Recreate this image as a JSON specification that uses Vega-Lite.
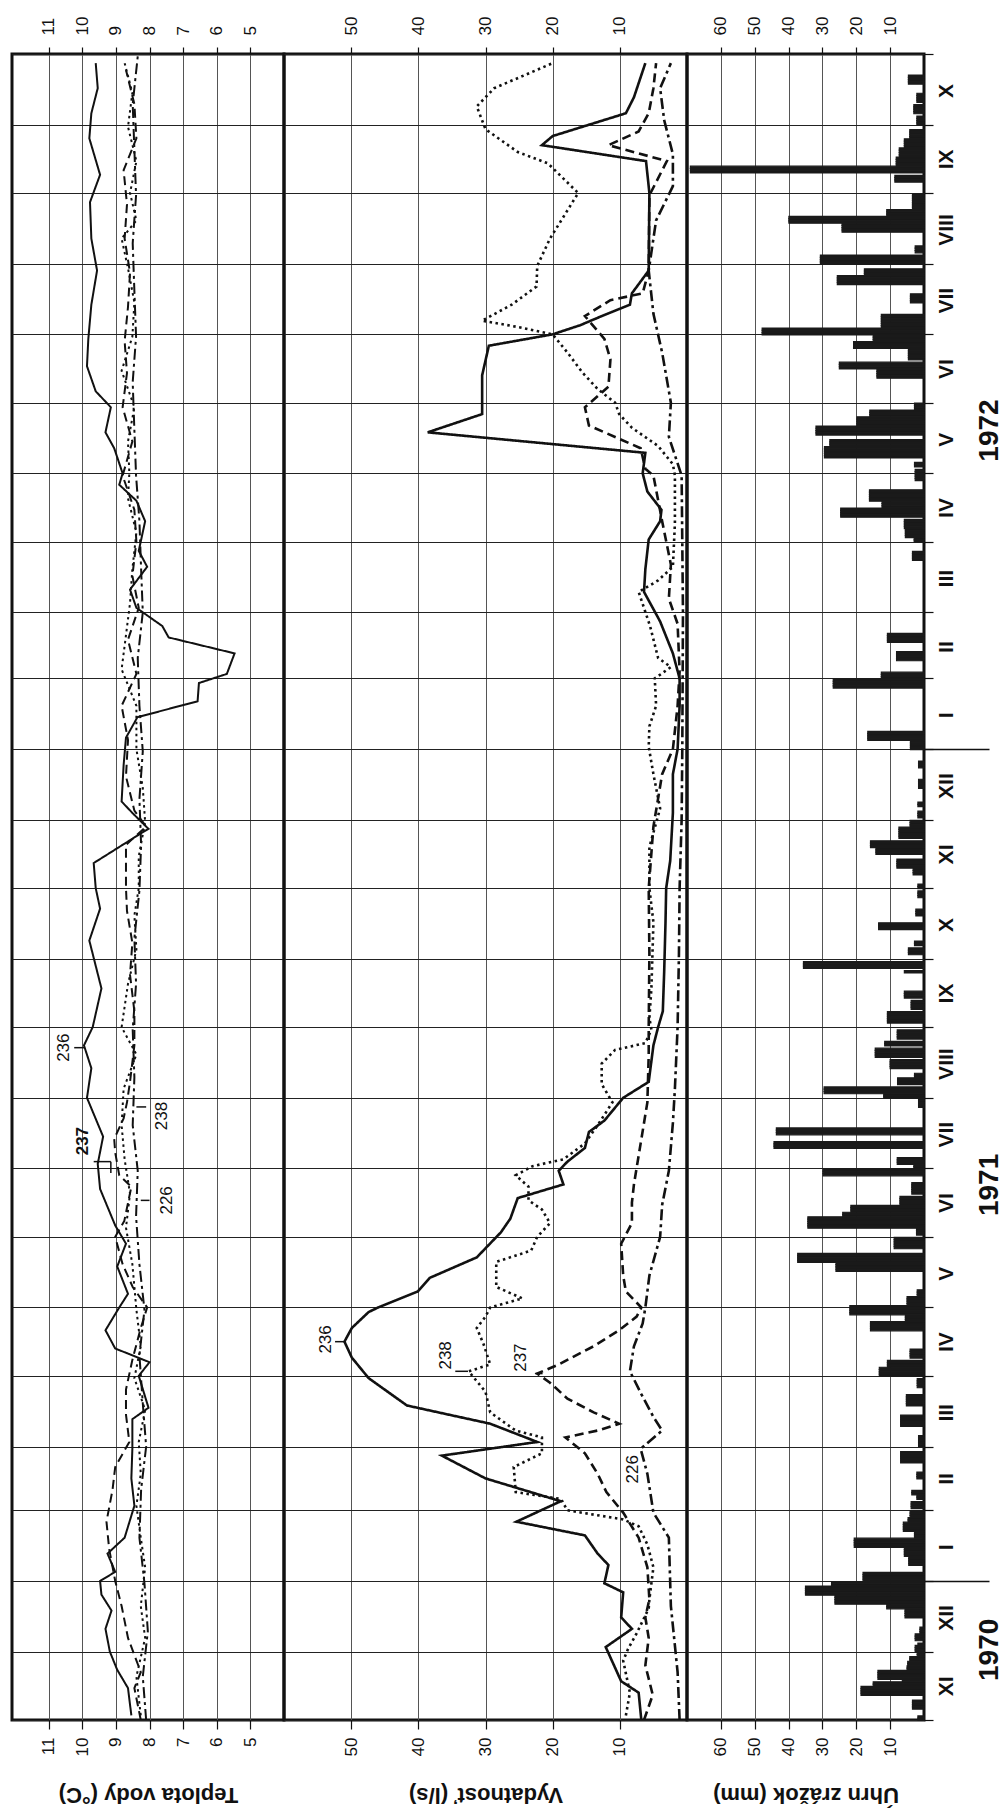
{
"$schema":"https://vega.github.io/schema/vega-lite/v6.json",
"background":"white",
"padding":{"left":10,"top":14,"right":0,"bottom":0},
"spacing":0,
"bounds":"flush",
"config":{
 "view":{"stroke":"#111","strokeWidth":3},
 "font":"Arial",
 "axis":{"labelFont":"Arial","labelFontSize":17,"labelColor":"#111","tickColor":"#111","tickWidth":1.2,"gridColor":"#555","gridWidth":1,"gridOpacity":1,"domain":false,"titleFont":"Arial","titleColor":"#111","labelOverlap":false,"labelFlush":false}
},
"datasets":{
"temp":[
{"date":"1970-11-03","site":"236","value":8.54},{"date":"1970-11-15","site":"236","value":8.64},{"date":"1970-11-23","site":"236","value":8.96},{"date":"1970-12-01","site":"236","value":9.18},{"date":"1970-12-11","site":"236","value":9.31},{"date":"1970-12-19","site":"236","value":9.13},{"date":"1970-12-26","site":"236","value":9.43},{"date":"1971-01-01","site":"236","value":9.47},{"date":"1971-01-05","site":"236","value":9.02},{"date":"1971-01-13","site":"236","value":9.25},{"date":"1971-01-20","site":"236","value":8.74},{"date":"1971-02-03","site":"236","value":8.45},{"date":"1971-02-15","site":"236","value":8.54},{"date":"1971-02-28","site":"236","value":8.51},{"date":"1971-03-13","site":"236","value":8.51},{"date":"1971-03-18","site":"236","value":8.03},{"date":"1971-04-01","site":"236","value":8.32},{"date":"1971-04-07","site":"236","value":8.0},{"date":"1971-04-13","site":"236","value":9.02},{"date":"1971-04-21","site":"236","value":9.31},{"date":"1971-05-01","site":"236","value":8.9},{"date":"1971-05-07","site":"236","value":8.64},{"date":"1971-05-19","site":"236","value":8.96},{"date":"1971-05-29","site":"236","value":8.7},{"date":"1971-06-06","site":"236","value":9.02},{"date":"1971-06-22","site":"236","value":9.47},{"date":"1971-07-03","site":"236","value":9.54},{"date":"1971-07-15","site":"236","value":9.38},{"date":"1971-08-01","site":"236","value":9.86},{"date":"1971-08-14","site":"236","value":9.73},{"date":"1971-08-24","site":"236","value":9.95},{"date":"1971-09-01","site":"236","value":9.69},{"date":"1971-09-18","site":"236","value":9.43},{"date":"1971-10-09","site":"236","value":9.79},{"date":"1971-10-23","site":"236","value":9.47},{"date":"1971-11-01","site":"236","value":9.6},{"date":"1971-11-12","site":"236","value":9.66},{"date":"1971-11-25","site":"236","value":8.26},{"date":"1971-11-27","site":"236","value":8.03},{"date":"1971-12-04","site":"236","value":8.51},{"date":"1971-12-09","site":"236","value":8.83},{"date":"1971-12-25","site":"236","value":8.77},{"date":"1972-01-06","site":"236","value":8.7},{"date":"1972-01-15","site":"236","value":8.36},{"date":"1972-01-22","site":"236","value":6.57},{"date":"1972-01-30","site":"236","value":6.53},{"date":"1972-02-03","site":"236","value":5.7},{"date":"1972-02-12","site":"236","value":5.47},{"date":"1972-02-19","site":"236","value":7.43},{"date":"1972-02-24","site":"236","value":7.62},{"date":"1972-03-03","site":"236","value":8.39},{"date":"1972-03-11","site":"236","value":8.58},{"date":"1972-03-21","site":"236","value":8.07},{"date":"1972-03-28","site":"236","value":8.32},{"date":"1972-04-10","site":"236","value":8.13},{"date":"1972-04-19","site":"236","value":8.39},{"date":"1972-04-26","site":"236","value":8.9},{"date":"1972-05-01","site":"236","value":8.8},{"date":"1972-05-12","site":"236","value":9.05},{"date":"1972-05-19","site":"236","value":9.31},{"date":"1972-05-30","site":"236","value":9.15},{"date":"1972-06-06","site":"236","value":9.6},{"date":"1972-06-17","site":"236","value":9.86},{"date":"1972-06-29","site":"236","value":9.82},{"date":"1972-07-14","site":"236","value":9.73},{"date":"1972-07-29","site":"236","value":9.56},{"date":"1972-08-12","site":"236","value":9.73},{"date":"1972-08-28","site":"236","value":9.77},{"date":"1972-09-09","site":"236","value":9.47},{"date":"1972-09-25","site":"236","value":9.79},{"date":"1972-10-06","site":"236","value":9.73},{"date":"1972-10-17","site":"236","value":9.54},{"date":"1972-10-28","site":"236","value":9.6},
{"date":"1970-11-01","site":"237","value":8.26},{"date":"1970-11-15","site":"237","value":8.45},{"date":"1970-11-22","site":"237","value":8.26},{"date":"1970-12-07","site":"237","value":8.64},{"date":"1970-12-21","site":"237","value":8.83},{"date":"1971-01-01","site":"237","value":9.02},{"date":"1971-01-15","site":"237","value":9.2},{"date":"1971-01-27","site":"237","value":9.28},{"date":"1971-02-10","site":"237","value":9.1},{"date":"1971-02-20","site":"237","value":9.02},{"date":"1971-03-03","site":"237","value":8.6},{"date":"1971-03-15","site":"237","value":8.7},{"date":"1971-03-26","site":"237","value":8.7},{"date":"1971-04-08","site":"237","value":8.51},{"date":"1971-04-22","site":"237","value":8.26},{"date":"1971-05-01","site":"237","value":8.07},{"date":"1971-05-10","site":"237","value":8.5},{"date":"1971-05-20","site":"237","value":8.8},{"date":"1971-06-01","site":"237","value":9.02},{"date":"1971-06-08","site":"237","value":8.75},{"date":"1971-06-23","site":"237","value":8.54},{"date":"1971-06-28","site":"237","value":8.9},{"date":"1971-07-08","site":"237","value":9.02},{"date":"1971-07-14","site":"237","value":9.05},{"date":"1971-07-23","site":"237","value":8.77},{"date":"1971-07-30","site":"237","value":8.67},{"date":"1971-08-08","site":"237","value":8.58},{"date":"1971-08-24","site":"237","value":8.45},{"date":"1971-09-08","site":"237","value":8.45},{"date":"1971-09-24","site":"237","value":8.58},{"date":"1971-10-08","site":"237","value":8.51},{"date":"1971-10-22","site":"237","value":8.67},{"date":"1971-11-01","site":"237","value":8.7},{"date":"1971-11-20","site":"237","value":8.7},{"date":"1971-11-28","site":"237","value":8.1},{"date":"1971-12-05","site":"237","value":8.45},{"date":"1971-12-20","site":"237","value":8.7},{"date":"1972-01-05","site":"237","value":8.64},{"date":"1972-01-20","site":"237","value":8.83},{"date":"1972-02-03","site":"237","value":8.39},{"date":"1972-02-18","site":"237","value":8.64},{"date":"1972-03-03","site":"237","value":8.32},{"date":"1972-03-17","site":"237","value":8.51},{"date":"1972-04-01","site":"237","value":8.39},{"date":"1972-04-15","site":"237","value":8.45},{"date":"1972-04-30","site":"237","value":8.8},{"date":"1972-05-15","site":"237","value":8.51},{"date":"1972-05-30","site":"237","value":8.8},{"date":"1972-06-14","site":"237","value":8.67},{"date":"1972-06-28","site":"237","value":8.74},{"date":"1972-07-13","site":"237","value":8.64},{"date":"1972-07-28","site":"237","value":8.58},{"date":"1972-08-12","site":"237","value":8.74},{"date":"1972-08-27","site":"237","value":8.67},{"date":"1972-09-11","site":"237","value":8.77},{"date":"1972-09-25","site":"237","value":8.39},{"date":"1972-10-10","site":"237","value":8.45},{"date":"1972-10-25","site":"237","value":8.7},
{"date":"1970-11-03","site":"238","value":8.26},{"date":"1970-11-20","site":"238","value":8.39},{"date":"1970-12-07","site":"238","value":8.13},{"date":"1970-12-21","site":"238","value":8.26},{"date":"1971-01-07","site":"238","value":8.13},{"date":"1971-01-20","site":"238","value":8.26},{"date":"1971-02-03","site":"238","value":8.39},{"date":"1971-02-17","site":"238","value":8.26},{"date":"1971-03-03","site":"238","value":8.32},{"date":"1971-03-17","site":"238","value":8.13},{"date":"1971-03-31","site":"238","value":8.45},{"date":"1971-04-14","site":"238","value":8.26},{"date":"1971-04-30","site":"238","value":8.39},{"date":"1971-05-20","site":"238","value":8.51},{"date":"1971-06-05","site":"238","value":8.7},{"date":"1971-06-20","site":"238","value":8.58},{"date":"1971-07-05","site":"238","value":8.74},{"date":"1971-07-20","site":"238","value":8.83},{"date":"1971-08-05","site":"238","value":8.77},{"date":"1971-08-20","site":"238","value":8.39},{"date":"1971-09-01","site":"238","value":8.83},{"date":"1971-09-20","site":"238","value":8.64},{"date":"1971-10-05","site":"238","value":8.39},{"date":"1971-10-20","site":"238","value":8.45},{"date":"1971-11-01","site":"238","value":8.32},{"date":"1971-11-15","site":"238","value":8.32},{"date":"1971-11-30","site":"238","value":8.13},{"date":"1971-12-15","site":"238","value":8.2},{"date":"1972-01-01","site":"238","value":8.39},{"date":"1972-01-20","site":"238","value":8.39},{"date":"1972-02-05","site":"238","value":8.83},{"date":"1972-02-20","site":"238","value":8.7},{"date":"1972-03-05","site":"238","value":8.58},{"date":"1972-03-20","site":"238","value":8.51},{"date":"1972-04-05","site":"238","value":8.39},{"date":"1972-04-20","site":"238","value":8.64},{"date":"1972-05-01","site":"238","value":8.6},{"date":"1972-05-15","site":"238","value":8.64},{"date":"1972-05-30","site":"238","value":8.45},{"date":"1972-06-15","site":"238","value":8.83},{"date":"1972-06-30","site":"238","value":8.51},{"date":"1972-07-15","site":"238","value":8.45},{"date":"1972-07-30","site":"238","value":8.64},{"date":"1972-08-12","site":"238","value":8.83},{"date":"1972-08-20","site":"238","value":8.39},{"date":"1972-09-01","site":"238","value":8.58},{"date":"1972-09-15","site":"238","value":8.39},{"date":"1972-09-30","site":"238","value":8.64},{"date":"1972-10-15","site":"238","value":8.51},{"date":"1972-10-28","site":"238","value":8.74},
{"date":"1970-11-01","site":"226","value":8.1},{"date":"1970-11-20","site":"226","value":8.2},{"date":"1970-12-10","site":"226","value":8.05},{"date":"1970-12-31","site":"226","value":8.15},{"date":"1971-01-20","site":"226","value":8.3},{"date":"1971-02-10","site":"226","value":8.25},{"date":"1971-03-01","site":"226","value":8.1},{"date":"1971-03-20","site":"226","value":8.2},{"date":"1971-04-10","site":"226","value":8.3},{"date":"1971-04-30","site":"226","value":8.15},{"date":"1971-05-20","site":"226","value":8.3},{"date":"1971-06-10","site":"226","value":8.4},{"date":"1971-06-30","site":"226","value":8.35},{"date":"1971-07-20","site":"226","value":8.5},{"date":"1971-08-10","site":"226","value":8.45},{"date":"1971-08-31","site":"226","value":8.5},{"date":"1971-09-20","site":"226","value":8.4},{"date":"1971-10-10","site":"226","value":8.45},{"date":"1971-10-31","site":"226","value":8.3},{"date":"1971-11-20","site":"226","value":8.25},{"date":"1971-12-10","site":"226","value":8.3},{"date":"1971-12-31","site":"226","value":8.2},{"date":"1972-01-20","site":"226","value":8.3},{"date":"1972-02-10","site":"226","value":8.35},{"date":"1972-03-01","site":"226","value":8.2},{"date":"1972-03-20","site":"226","value":8.25},{"date":"1972-04-10","site":"226","value":8.3},{"date":"1972-04-30","site":"226","value":8.4},{"date":"1972-05-20","site":"226","value":8.45},{"date":"1972-06-10","site":"226","value":8.5},{"date":"1972-06-30","site":"226","value":8.4},{"date":"1972-07-20","site":"226","value":8.45},{"date":"1972-08-10","site":"226","value":8.5},{"date":"1972-08-31","site":"226","value":8.4},{"date":"1972-09-20","site":"226","value":8.45},{"date":"1972-10-10","site":"226","value":8.5},{"date":"1972-10-31","site":"226","value":8.35}
],
"flow":[
{"date":"1970-11-01","site":"236","value":6.8},{"date":"1970-11-13","site":"236","value":7.2},{"date":"1970-11-18","site":"236","value":9.8},{"date":"1970-12-03","site":"236","value":12.1},{"date":"1970-12-11","site":"236","value":8.2},{"date":"1970-12-16","site":"236","value":9.8},{"date":"1970-12-27","site":"236","value":9.5},{"date":"1970-12-31","site":"236","value":12.3},{"date":"1971-01-08","site":"236","value":11.7},{"date":"1971-01-13","site":"236","value":13.3},{"date":"1971-01-21","site":"236","value":15.2},{"date":"1971-01-27","site":"236","value":25.4},{"date":"1971-02-05","site":"236","value":18.8},{"date":"1971-02-15","site":"236","value":30},{"date":"1971-02-25","site":"236","value":36.5},{"date":"1971-03-03","site":"236","value":22.3},{"date":"1971-03-11","site":"236","value":29.3},{"date":"1971-03-19","site":"236","value":41.7},{"date":"1971-03-31","site":"236","value":47.4},{"date":"1971-04-09","site":"236","value":49.9},{"date":"1971-04-16","site":"236","value":51},{"date":"1971-04-22","site":"236","value":49.9},{"date":"1971-04-29","site":"236","value":47.4},{"date":"1971-05-01","site":"236","value":46},{"date":"1971-05-08","site":"236","value":40.1},{"date":"1971-05-14","site":"236","value":38.3},{"date":"1971-05-23","site":"236","value":31.3},{"date":"1971-06-03","site":"236","value":27.7},{"date":"1971-06-09","site":"236","value":26.3},{"date":"1971-06-18","site":"236","value":25.2},{"date":"1971-06-24","site":"236","value":18.4},{"date":"1971-06-30","site":"236","value":19.1},{"date":"1971-07-04","site":"236","value":17.8},{"date":"1971-07-10","site":"236","value":15.2},{"date":"1971-07-17","site":"236","value":14.6},{"date":"1971-07-22","site":"236","value":12.3},{"date":"1971-08-01","site":"236","value":9.5},{"date":"1971-08-08","site":"236","value":5.7},{"date":"1971-08-24","site":"236","value":5.0},{"date":"1971-09-01","site":"236","value":4.3},{"date":"1971-09-08","site":"236","value":3.6},{"date":"1971-09-25","site":"236","value":3.4},{"date":"1971-10-17","site":"236","value":3.2},{"date":"1971-11-01","site":"236","value":3.1},{"date":"1971-11-13","site":"236","value":2.5},{"date":"1971-12-04","site":"236","value":2.1},{"date":"1971-12-21","site":"236","value":2.1},{"date":"1972-01-01","site":"236","value":1.4},{"date":"1972-01-20","site":"236","value":1.1},{"date":"1972-02-01","site":"236","value":1.1},{"date":"1972-02-12","site":"236","value":2.1},{"date":"1972-02-26","site":"236","value":4.0},{"date":"1972-03-10","site":"236","value":6.4},{"date":"1972-03-20","site":"236","value":6.2},{"date":"1972-04-02","site":"236","value":5.7},{"date":"1972-04-10","site":"236","value":4.0},{"date":"1972-04-15","site":"236","value":3.8},{"date":"1972-04-23","site":"236","value":5.9},{"date":"1972-05-01","site":"236","value":6.6},{"date":"1972-05-10","site":"236","value":6.2},{"date":"1972-05-19","site":"236","value":38.6},{"date":"1972-05-27","site":"236","value":30.5},{"date":"1972-06-13","site":"236","value":30.5},{"date":"1972-06-26","site":"236","value":29.5},{"date":"1972-07-01","site":"236","value":20},{"date":"1972-07-05","site":"236","value":15.9},{"date":"1972-07-09","site":"236","value":12.7},{"date":"1972-07-14","site":"236","value":8.5},{"date":"1972-07-19","site":"236","value":8.2},{"date":"1972-07-29","site":"236","value":5.7},{"date":"1972-09-01","site":"236","value":5.6},{"date":"1972-09-15","site":"236","value":6.1},{"date":"1972-09-22","site":"236","value":21.6},{"date":"1972-09-26","site":"236","value":20},{"date":"1972-10-06","site":"236","value":9.1},{"date":"1972-10-13","site":"236","value":7.9},{"date":"1972-10-28","site":"236","value":6.2},
{"date":"1970-11-03","site":"238","value":9.1},{"date":"1970-11-13","site":"238","value":8.5},{"date":"1970-11-27","site":"238","value":9.5},{"date":"1970-12-02","site":"238","value":8.8},{"date":"1970-12-09","site":"238","value":7.5},{"date":"1970-12-20","site":"238","value":5.7},{"date":"1970-12-24","site":"238","value":5.6},{"date":"1971-01-07","site":"238","value":5.0},{"date":"1971-01-17","site":"238","value":5.9},{"date":"1971-01-25","site":"238","value":7.2},{"date":"1971-01-28","site":"238","value":9.5},{"date":"1971-02-01","site":"238","value":17.8},{"date":"1971-02-06","site":"238","value":18.8},{"date":"1971-02-09","site":"238","value":25.5},{"date":"1971-02-20","site":"238","value":25.8},{"date":"1971-02-26","site":"238","value":21.6},{"date":"1971-03-05","site":"238","value":21.6},{"date":"1971-03-08","site":"238","value":25.5},{"date":"1971-03-16","site":"238","value":29.3},{"date":"1971-03-25","site":"238","value":30},{"date":"1971-04-03","site":"238","value":32.5},{"date":"1971-04-06","site":"238","value":29.3},{"date":"1971-04-15","site":"238","value":30.3},{"date":"1971-04-22","site":"238","value":31.3},{"date":"1971-04-27","site":"238","value":30},{"date":"1971-05-01","site":"238","value":29.3},{"date":"1971-05-05","site":"238","value":24.5},{"date":"1971-05-10","site":"238","value":28.4},{"date":"1971-05-21","site":"238","value":28.4},{"date":"1971-05-26","site":"238","value":23.2},{"date":"1971-06-01","site":"238","value":22.3},{"date":"1971-06-07","site":"238","value":20.4},{"date":"1971-06-13","site":"238","value":21.6},{"date":"1971-06-17","site":"238","value":23.6},{"date":"1971-06-23","site":"238","value":23.6},{"date":"1971-06-28","site":"238","value":25.5},{"date":"1971-07-02","site":"238","value":23},{"date":"1971-07-05","site":"238","value":18.4},{"date":"1971-07-12","site":"238","value":15.2},{"date":"1971-07-20","site":"238","value":13.3},{"date":"1971-07-30","site":"238","value":11.1},{"date":"1971-08-07","site":"238","value":12.7},{"date":"1971-08-16","site":"238","value":12.7},{"date":"1971-08-22","site":"238","value":10.7},{"date":"1971-08-25","site":"238","value":6.2},{"date":"1971-08-31","site":"238","value":5.3},{"date":"1971-09-05","site":"238","value":5.6},{"date":"1971-09-18","site":"238","value":5.3},{"date":"1971-10-17","site":"238","value":5.0},{"date":"1971-11-01","site":"238","value":5.6},{"date":"1971-11-19","site":"238","value":5.6},{"date":"1971-12-06","site":"238","value":4.0},{"date":"1971-12-21","site":"238","value":5.0},{"date":"1972-01-02","site":"238","value":5.7},{"date":"1972-01-11","site":"238","value":5.6},{"date":"1972-01-20","site":"238","value":4.6},{"date":"1972-02-01","site":"238","value":4.8},{"date":"1972-02-06","site":"238","value":2.4},{"date":"1972-02-10","site":"238","value":4.3},{"date":"1972-02-24","site":"238","value":5.5},{"date":"1972-03-10","site":"238","value":7.2},{"date":"1972-03-15","site":"238","value":4.3},{"date":"1972-03-21","site":"238","value":2.1},{"date":"1972-04-09","site":"238","value":1.8},{"date":"1972-04-30","site":"238","value":1.8},{"date":"1972-05-05","site":"238","value":2.1},{"date":"1972-05-13","site":"238","value":4.3},{"date":"1972-05-21","site":"238","value":8.2},{"date":"1972-05-27","site":"238","value":10.1},{"date":"1972-06-01","site":"238","value":10.7},{"date":"1972-06-07","site":"238","value":13.3},{"date":"1972-06-14","site":"238","value":15.5},{"date":"1972-06-23","site":"238","value":17.8},{"date":"1972-07-01","site":"238","value":20},{"date":"1972-07-04","site":"238","value":24.8},{"date":"1972-07-07","site":"238","value":30.5},{"date":"1972-07-14","site":"238","value":26.1},{"date":"1972-07-22","site":"238","value":22.4},{"date":"1972-07-31","site":"238","value":22.3},{"date":"1972-08-12","site":"238","value":20.4},{"date":"1972-09-01","site":"238","value":16.2},{"date":"1972-09-14","site":"238","value":20.7},{"date":"1972-09-19","site":"238","value":25.2},{"date":"1972-09-29","site":"238","value":30},{"date":"1972-10-09","site":"238","value":31.3},{"date":"1972-10-17","site":"238","value":28.7},{"date":"1972-10-28","site":"238","value":20},
{"date":"1970-11-01","site":"237","value":6.4},{"date":"1970-11-12","site":"237","value":5.1},{"date":"1970-11-25","site":"237","value":6.2},{"date":"1970-12-07","site":"237","value":5.7},{"date":"1970-12-16","site":"237","value":6.2},{"date":"1970-12-24","site":"237","value":5.6},{"date":"1971-01-07","site":"237","value":5.9},{"date":"1971-01-20","site":"237","value":7.2},{"date":"1971-01-31","site":"237","value":9.5},{"date":"1971-02-09","site":"237","value":12},{"date":"1971-02-17","site":"237","value":13.3},{"date":"1971-02-26","site":"237","value":15.2},{"date":"1971-03-05","site":"237","value":18.1},{"date":"1971-03-08","site":"237","value":13.3},{"date":"1971-03-11","site":"237","value":10.1},{"date":"1971-03-16","site":"237","value":13.9},{"date":"1971-03-22","site":"237","value":17.8},{"date":"1971-03-29","site":"237","value":20.4},{"date":"1971-04-02","site":"237","value":22.3},{"date":"1971-04-06","site":"237","value":19.1},{"date":"1971-04-14","site":"237","value":13.9},{"date":"1971-04-21","site":"237","value":10.1},{"date":"1971-04-27","site":"237","value":7.5},{"date":"1971-05-01","site":"237","value":6.8},{"date":"1971-05-08","site":"237","value":9.1},{"date":"1971-05-15","site":"237","value":9.5},{"date":"1971-05-29","site":"237","value":9.8},{"date":"1971-06-07","site":"237","value":8.2},{"date":"1971-06-16","site":"237","value":8.2},{"date":"1971-06-24","site":"237","value":7.9},{"date":"1971-07-12","site":"237","value":6.9},{"date":"1971-07-30","site":"237","value":5.9},{"date":"1971-08-20","site":"237","value":5.7},{"date":"1971-09-01","site":"237","value":5.7},{"date":"1971-10-03","site":"237","value":5.6},{"date":"1971-11-01","site":"237","value":5.7},{"date":"1971-11-28","site":"237","value":5.0},{"date":"1971-12-21","site":"237","value":3.7},{"date":"1972-01-01","site":"237","value":2.1},{"date":"1972-01-20","site":"237","value":1.4},{"date":"1972-02-04","site":"237","value":1.1},{"date":"1972-02-25","site":"237","value":1.4},{"date":"1972-03-07","site":"237","value":2.7},{"date":"1972-03-22","site":"237","value":2.4},{"date":"1972-04-10","site":"237","value":3.7},{"date":"1972-04-30","site":"237","value":5.0},{"date":"1972-05-03","site":"237","value":6.2},{"date":"1972-05-12","site":"237","value":6.9},{"date":"1972-05-22","site":"237","value":14.6},{"date":"1972-05-30","site":"237","value":15.2},{"date":"1972-06-08","site":"237","value":11.7},{"date":"1972-06-20","site":"237","value":11.4},{"date":"1972-06-29","site":"237","value":12.3},{"date":"1972-07-09","site":"237","value":15.2},{"date":"1972-07-16","site":"237","value":11.4},{"date":"1972-07-19","site":"237","value":6.6},{"date":"1972-07-29","site":"237","value":5.7},{"date":"1972-08-31","site":"237","value":5.6},{"date":"1972-09-15","site":"237","value":3.0},{"date":"1972-09-22","site":"237","value":11.7},{"date":"1972-09-28","site":"237","value":7.2},{"date":"1972-10-06","site":"237","value":5.7},{"date":"1972-10-17","site":"237","value":5.0},{"date":"1972-10-28","site":"237","value":4.6},
{"date":"1970-11-01","site":"226","value":1.1},{"date":"1970-11-22","site":"226","value":1.4},{"date":"1970-12-21","site":"226","value":2.4},{"date":"1971-01-20","site":"226","value":2.7},{"date":"1971-01-31","site":"226","value":5.0},{"date":"1971-02-17","site":"226","value":5.9},{"date":"1971-02-28","site":"226","value":6.9},{"date":"1971-03-08","site":"226","value":3.7},{"date":"1971-03-14","site":"226","value":5.0},{"date":"1971-03-24","site":"226","value":6.8},{"date":"1971-04-03","site":"226","value":8.5},{"date":"1971-04-14","site":"226","value":7.9},{"date":"1971-04-24","site":"226","value":6.6},{"date":"1971-05-01","site":"226","value":6.2},{"date":"1971-05-15","site":"226","value":5.6},{"date":"1971-06-01","site":"226","value":4.0},{"date":"1971-06-15","site":"226","value":3.7},{"date":"1971-06-30","site":"226","value":2.7},{"date":"1971-07-21","site":"226","value":2.1},{"date":"1971-08-05","site":"226","value":1.8},{"date":"1971-09-01","site":"226","value":1.4},{"date":"1971-10-03","site":"226","value":1.2},{"date":"1971-11-01","site":"226","value":1.1},{"date":"1971-12-01","site":"226","value":0.8},{"date":"1972-01-01","site":"226","value":0.7},{"date":"1972-03-01","site":"226","value":0.6},{"date":"1972-04-30","site":"226","value":0.8},{"date":"1972-05-17","site":"226","value":2.7},{"date":"1972-06-01","site":"226","value":2.4},{"date":"1972-06-23","site":"226","value":3.7},{"date":"1972-07-10","site":"226","value":5.0},{"date":"1972-07-29","site":"226","value":5.7},{"date":"1972-08-20","site":"226","value":4.6},{"date":"1972-09-04","site":"226","value":2.1},{"date":"1972-09-18","site":"226","value":2.1},{"date":"1972-10-03","site":"226","value":3.4},{"date":"1972-10-17","site":"226","value":4.0},{"date":"1972-10-28","site":"226","value":2.4}
],
"rain":[
{"date":"1970-11-01","mm":1.8},{"date":"1970-11-02","mm":1.8},{"date":"1970-11-06","mm":3.4},{"date":"1970-11-07","mm":3.4},{"date":"1970-11-08","mm":3.4},{"date":"1970-11-09","mm":3.4},{"date":"1970-11-12","mm":18.6},{"date":"1970-11-13","mm":18.6},{"date":"1970-11-14","mm":18.6},{"date":"1970-11-15","mm":18.6},{"date":"1970-11-16","mm":15},{"date":"1970-11-17","mm":15},{"date":"1970-11-18","mm":6.4},{"date":"1970-11-19","mm":13.6},{"date":"1970-11-20","mm":13.6},{"date":"1970-11-21","mm":13.6},{"date":"1970-11-22","mm":13.6},{"date":"1970-11-23","mm":5},{"date":"1970-11-24","mm":5},{"date":"1970-11-25","mm":4.8},{"date":"1970-11-26","mm":4.8},{"date":"1970-11-27","mm":4.2},{"date":"1970-11-28","mm":4.2},{"date":"1970-11-29","mm":2},{"date":"1970-11-30","mm":2},
{"date":"1970-12-01","mm":2.6},{"date":"1970-12-02","mm":2.6},{"date":"1970-12-03","mm":2.6},{"date":"1970-12-04","mm":1.8},{"date":"1970-12-06","mm":2.6},{"date":"1970-12-07","mm":2.6},{"date":"1970-12-08","mm":2.6},{"date":"1970-12-09","mm":1.2},{"date":"1970-12-10","mm":1.2},{"date":"1970-12-11","mm":1.2},{"date":"1970-12-16","mm":5.6},{"date":"1970-12-17","mm":5.6},{"date":"1970-12-18","mm":5.6},{"date":"1970-12-19","mm":5.6},{"date":"1970-12-20","mm":11},{"date":"1970-12-21","mm":11},{"date":"1970-12-22","mm":26.3},{"date":"1970-12-23","mm":26.3},{"date":"1970-12-24","mm":26.3},{"date":"1970-12-25","mm":26.3},{"date":"1970-12-26","mm":35},{"date":"1970-12-27","mm":35},{"date":"1970-12-28","mm":35},{"date":"1970-12-29","mm":35},{"date":"1970-12-30","mm":27.3},{"date":"1970-12-31","mm":27.3},
{"date":"1971-01-01","mm":18},{"date":"1971-01-02","mm":18},{"date":"1971-01-03","mm":18},{"date":"1971-01-04","mm":18},{"date":"1971-01-08","mm":4.5},{"date":"1971-01-09","mm":4.5},{"date":"1971-01-10","mm":4.5},{"date":"1971-01-11","mm":4.5},{"date":"1971-01-12","mm":5.8},{"date":"1971-01-13","mm":5.8},{"date":"1971-01-14","mm":5.8},{"date":"1971-01-15","mm":5.8},{"date":"1971-01-16","mm":20.6},{"date":"1971-01-17","mm":20.6},{"date":"1971-01-18","mm":20.6},{"date":"1971-01-19","mm":20.6},{"date":"1971-01-20","mm":2.8},{"date":"1971-01-21","mm":2.8},{"date":"1971-01-22","mm":2.8},{"date":"1971-01-23","mm":6.1},{"date":"1971-01-24","mm":6.1},{"date":"1971-01-25","mm":6.1},{"date":"1971-01-26","mm":6.1},{"date":"1971-01-27","mm":4.7},{"date":"1971-01-28","mm":4.7},{"date":"1971-01-29","mm":4.1},{"date":"1971-01-30","mm":4.1},{"date":"1971-01-31","mm":4.1},
{"date":"1971-02-02","mm":3.8},{"date":"1971-02-03","mm":3.8},{"date":"1971-02-04","mm":3.8},{"date":"1971-02-06","mm":2.1},{"date":"1971-02-07","mm":2.1},{"date":"1971-02-08","mm":3.6},{"date":"1971-02-09","mm":3.6},{"date":"1971-02-15","mm":2.1},{"date":"1971-02-16","mm":2.1},{"date":"1971-02-17","mm":2.1},{"date":"1971-02-22","mm":6.9},{"date":"1971-02-23","mm":6.9},{"date":"1971-02-24","mm":6.9},{"date":"1971-02-25","mm":6.9},{"date":"1971-02-26","mm":6.9},
{"date":"1971-03-01","mm":1.6},{"date":"1971-03-02","mm":1.6},{"date":"1971-03-03","mm":1.6},{"date":"1971-03-04","mm":1.6},{"date":"1971-03-05","mm":1.6},{"date":"1971-03-10","mm":6.9},{"date":"1971-03-11","mm":6.9},{"date":"1971-03-12","mm":6.9},{"date":"1971-03-13","mm":6.9},{"date":"1971-03-14","mm":6.9},{"date":"1971-03-19","mm":5.2},{"date":"1971-03-20","mm":5.2},{"date":"1971-03-21","mm":5.2},{"date":"1971-03-22","mm":5.2},{"date":"1971-03-23","mm":5.2},{"date":"1971-03-27","mm":2},{"date":"1971-03-28","mm":2},{"date":"1971-03-29","mm":2},{"date":"1971-03-30","mm":2},
{"date":"1971-04-01","mm":13.2},{"date":"1971-04-02","mm":13.2},{"date":"1971-04-03","mm":13.2},{"date":"1971-04-04","mm":13.2},{"date":"1971-04-05","mm":10.8},{"date":"1971-04-06","mm":10.8},{"date":"1971-04-07","mm":10.8},{"date":"1971-04-09","mm":4.1},{"date":"1971-04-10","mm":4.1},{"date":"1971-04-11","mm":4.1},{"date":"1971-04-12","mm":4.1},{"date":"1971-04-21","mm":15.8},{"date":"1971-04-22","mm":15.8},{"date":"1971-04-23","mm":15.8},{"date":"1971-04-24","mm":15.8},{"date":"1971-04-25","mm":5.5},{"date":"1971-04-26","mm":5.5},{"date":"1971-04-27","mm":5.5},{"date":"1971-04-28","mm":21.9},{"date":"1971-04-29","mm":21.9},{"date":"1971-04-30","mm":21.9},
{"date":"1971-05-01","mm":21.9},{"date":"1971-05-02","mm":5},{"date":"1971-05-03","mm":5},{"date":"1971-05-04","mm":5},{"date":"1971-05-05","mm":5},{"date":"1971-05-06","mm":2},{"date":"1971-05-07","mm":2},{"date":"1971-05-08","mm":2},{"date":"1971-05-17","mm":26},{"date":"1971-05-18","mm":26},{"date":"1971-05-19","mm":26},{"date":"1971-05-20","mm":26},{"date":"1971-05-21","mm":37.3},{"date":"1971-05-22","mm":37.3},{"date":"1971-05-23","mm":37.3},{"date":"1971-05-24","mm":37.3},{"date":"1971-05-27","mm":8.8},{"date":"1971-05-28","mm":8.8},{"date":"1971-05-29","mm":8.8},{"date":"1971-05-30","mm":8.8},{"date":"1971-05-31","mm":8.8},
{"date":"1971-06-02","mm":2.2},{"date":"1971-06-03","mm":2.2},{"date":"1971-06-04","mm":2.2},{"date":"1971-06-05","mm":34.3},{"date":"1971-06-06","mm":34.3},{"date":"1971-06-07","mm":34.3},{"date":"1971-06-08","mm":34.3},{"date":"1971-06-09","mm":34.3},{"date":"1971-06-10","mm":24},{"date":"1971-06-11","mm":24},{"date":"1971-06-12","mm":21.6},{"date":"1971-06-13","mm":21.6},{"date":"1971-06-14","mm":21.6},{"date":"1971-06-15","mm":7.1},{"date":"1971-06-16","mm":7.1},{"date":"1971-06-17","mm":7.1},{"date":"1971-06-18","mm":7.1},{"date":"1971-06-20","mm":3.6},{"date":"1971-06-21","mm":3.6},{"date":"1971-06-22","mm":3.6},{"date":"1971-06-23","mm":3.6},{"date":"1971-06-24","mm":3.6},{"date":"1971-06-28","mm":29.8},{"date":"1971-06-29","mm":29.8},{"date":"1971-06-30","mm":29.8},
{"date":"1971-07-01","mm":3},{"date":"1971-07-02","mm":3},{"date":"1971-07-03","mm":7.9},{"date":"1971-07-04","mm":7.9},{"date":"1971-07-05","mm":7.9},{"date":"1971-07-10","mm":44.3},{"date":"1971-07-11","mm":44.3},{"date":"1971-07-12","mm":44.3},{"date":"1971-07-16","mm":43.6},{"date":"1971-07-17","mm":43.6},{"date":"1971-07-18","mm":43.6},{"date":"1971-07-28","mm":1.6},{"date":"1971-07-29","mm":1.6},{"date":"1971-07-30","mm":1.6},{"date":"1971-07-31","mm":1.6},
{"date":"1971-08-01","mm":11.9},{"date":"1971-08-02","mm":11.9},{"date":"1971-08-03","mm":29.5},{"date":"1971-08-04","mm":29.5},{"date":"1971-08-05","mm":29.5},{"date":"1971-08-07","mm":7.8},{"date":"1971-08-08","mm":7.8},{"date":"1971-08-09","mm":7.8},{"date":"1971-08-10","mm":2.8},{"date":"1971-08-11","mm":2.8},{"date":"1971-08-14","mm":10},{"date":"1971-08-15","mm":10},{"date":"1971-08-16","mm":10},{"date":"1971-08-17","mm":10},{"date":"1971-08-19","mm":14.4},{"date":"1971-08-20","mm":14.4},{"date":"1971-08-21","mm":14.4},{"date":"1971-08-22","mm":14.4},{"date":"1971-08-24","mm":11.6},{"date":"1971-08-25","mm":11.6},{"date":"1971-08-27","mm":7.9},{"date":"1971-08-28","mm":7.9},{"date":"1971-08-29","mm":7.9},{"date":"1971-08-30","mm":7.9},
{"date":"1971-09-03","mm":10.8},{"date":"1971-09-04","mm":10.8},{"date":"1971-09-05","mm":10.8},{"date":"1971-09-06","mm":10.8},{"date":"1971-09-07","mm":10.8},{"date":"1971-09-09","mm":3.8},{"date":"1971-09-10","mm":3.8},{"date":"1971-09-11","mm":3.8},{"date":"1971-09-12","mm":3.8},{"date":"1971-09-14","mm":5.8},{"date":"1971-09-15","mm":5.8},{"date":"1971-09-16","mm":5.8},{"date":"1971-09-25","mm":5.8},{"date":"1971-09-27","mm":35.6},{"date":"1971-09-28","mm":35.6},{"date":"1971-09-29","mm":35.6},
{"date":"1971-10-03","mm":4.6},{"date":"1971-10-04","mm":4.6},{"date":"1971-10-05","mm":4.6},{"date":"1971-10-07","mm":2.8},{"date":"1971-10-08","mm":2.8},{"date":"1971-10-14","mm":13.4},{"date":"1971-10-15","mm":13.4},{"date":"1971-10-16","mm":13.4},{"date":"1971-10-20","mm":2.4},{"date":"1971-10-21","mm":2.4},{"date":"1971-10-22","mm":2.4},{"date":"1971-10-28","mm":1.8},{"date":"1971-10-29","mm":1.8},{"date":"1971-10-30","mm":1.8},
{"date":"1971-11-01","mm":1.8},{"date":"1971-11-02","mm":1.8},{"date":"1971-11-07","mm":3.2},{"date":"1971-11-08","mm":3.2},{"date":"1971-11-09","mm":3.2},{"date":"1971-11-10","mm":8},{"date":"1971-11-11","mm":8},{"date":"1971-11-12","mm":8},{"date":"1971-11-13","mm":8},{"date":"1971-11-16","mm":14.2},{"date":"1971-11-17","mm":14.2},{"date":"1971-11-18","mm":14.2},{"date":"1971-11-19","mm":15.8},{"date":"1971-11-20","mm":15.8},{"date":"1971-11-21","mm":15.8},{"date":"1971-11-23","mm":7.4},{"date":"1971-11-24","mm":7.4},{"date":"1971-11-25","mm":7.4},{"date":"1971-11-26","mm":7.4},{"date":"1971-11-27","mm":7.4},{"date":"1971-11-28","mm":4.1},{"date":"1971-11-29","mm":4.1},{"date":"1971-11-30","mm":4.1},
{"date":"1971-12-02","mm":1.8},{"date":"1971-12-03","mm":1.8},{"date":"1971-12-04","mm":1.8},{"date":"1971-12-07","mm":1.8},{"date":"1971-12-08","mm":1.8},{"date":"1971-12-15","mm":1.6},{"date":"1971-12-16","mm":1.6},{"date":"1971-12-17","mm":1.6},{"date":"1971-12-18","mm":1.6},{"date":"1971-12-24","mm":1.6},{"date":"1971-12-25","mm":1.6},{"date":"1971-12-26","mm":1.6},
{"date":"1972-01-01","mm":4},{"date":"1972-01-02","mm":4},{"date":"1972-01-03","mm":4},{"date":"1972-01-04","mm":4},{"date":"1972-01-05","mm":16.6},{"date":"1972-01-06","mm":16.6},{"date":"1972-01-07","mm":16.6},{"date":"1972-01-08","mm":16.6},{"date":"1972-01-28","mm":26.8},{"date":"1972-01-29","mm":26.8},{"date":"1972-01-30","mm":26.8},{"date":"1972-01-31","mm":26.8},
{"date":"1972-02-01","mm":12.6},{"date":"1972-02-02","mm":12.6},{"date":"1972-02-03","mm":12.6},{"date":"1972-02-09","mm":8.1},{"date":"1972-02-10","mm":8.1},{"date":"1972-02-11","mm":8.1},{"date":"1972-02-12","mm":8.1},{"date":"1972-02-17","mm":10.8},{"date":"1972-02-18","mm":10.8},{"date":"1972-02-19","mm":10.8},{"date":"1972-02-20","mm":10.8},
{"date":"1972-03-24","mm":3.4},{"date":"1972-03-25","mm":3.4},{"date":"1972-03-26","mm":3.4},{"date":"1972-03-27","mm":3.4},
{"date":"1972-04-01","mm":2.9},{"date":"1972-04-02","mm":2.9},{"date":"1972-04-03","mm":5.5},{"date":"1972-04-04","mm":5.5},{"date":"1972-04-05","mm":5.5},{"date":"1972-04-06","mm":5.5},{"date":"1972-04-07","mm":5.8},{"date":"1972-04-08","mm":5.8},{"date":"1972-04-09","mm":5.8},{"date":"1972-04-10","mm":5.8},{"date":"1972-04-12","mm":24.6},{"date":"1972-04-13","mm":24.6},{"date":"1972-04-14","mm":24.6},{"date":"1972-04-15","mm":24.6},{"date":"1972-04-16","mm":12.4},{"date":"1972-04-17","mm":12.4},{"date":"1972-04-18","mm":12.4},{"date":"1972-04-19","mm":16.1},{"date":"1972-04-20","mm":16.1},{"date":"1972-04-21","mm":16.1},{"date":"1972-04-22","mm":16.1},{"date":"1972-04-23","mm":16.1},{"date":"1972-04-28","mm":2.6},{"date":"1972-04-29","mm":2.6},{"date":"1972-04-30","mm":2.6},
{"date":"1972-05-01","mm":2.6},{"date":"1972-05-02","mm":2.6},{"date":"1972-05-04","mm":2.8},{"date":"1972-05-05","mm":2.8},{"date":"1972-05-08","mm":29.4},{"date":"1972-05-09","mm":29.4},{"date":"1972-05-10","mm":29.4},{"date":"1972-05-11","mm":29.4},{"date":"1972-05-12","mm":29.4},{"date":"1972-05-13","mm":27.8},{"date":"1972-05-14","mm":27.8},{"date":"1972-05-15","mm":27.8},{"date":"1972-05-18","mm":31.9},{"date":"1972-05-19","mm":31.9},{"date":"1972-05-20","mm":31.9},{"date":"1972-05-21","mm":31.9},{"date":"1972-05-22","mm":19.8},{"date":"1972-05-23","mm":19.8},{"date":"1972-05-24","mm":19.8},{"date":"1972-05-25","mm":19.8},{"date":"1972-05-26","mm":16},{"date":"1972-05-27","mm":16},{"date":"1972-05-28","mm":16},{"date":"1972-05-29","mm":2.8},{"date":"1972-05-30","mm":2.8},{"date":"1972-05-31","mm":2.8},
{"date":"1972-06-12","mm":13.9},{"date":"1972-06-13","mm":13.9},{"date":"1972-06-14","mm":13.9},{"date":"1972-06-15","mm":13.9},{"date":"1972-06-16","mm":25},{"date":"1972-06-17","mm":25},{"date":"1972-06-18","mm":25},{"date":"1972-06-20","mm":4.6},{"date":"1972-06-21","mm":4.6},{"date":"1972-06-22","mm":4.6},{"date":"1972-06-23","mm":4.6},{"date":"1972-06-24","mm":4.6},{"date":"1972-06-25","mm":20.8},{"date":"1972-06-26","mm":20.8},{"date":"1972-06-27","mm":20.8},{"date":"1972-06-28","mm":15},{"date":"1972-06-29","mm":15},{"date":"1972-06-30","mm":15},
{"date":"1972-07-01","mm":47.8},{"date":"1972-07-02","mm":47.8},{"date":"1972-07-03","mm":47.8},{"date":"1972-07-04","mm":12.6},{"date":"1972-07-05","mm":12.6},{"date":"1972-07-06","mm":12.6},{"date":"1972-07-07","mm":12.6},{"date":"1972-07-08","mm":12.6},{"date":"1972-07-09","mm":12.6},{"date":"1972-07-15","mm":4},{"date":"1972-07-16","mm":4},{"date":"1972-07-17","mm":4},{"date":"1972-07-18","mm":4},{"date":"1972-07-23","mm":25.6},{"date":"1972-07-24","mm":25.6},{"date":"1972-07-25","mm":25.6},{"date":"1972-07-26","mm":25.6},{"date":"1972-07-27","mm":17.6},{"date":"1972-07-28","mm":17.6},{"date":"1972-07-29","mm":17.6},
{"date":"1972-08-01","mm":30.6},{"date":"1972-08-02","mm":30.6},{"date":"1972-08-03","mm":30.6},{"date":"1972-08-04","mm":30.6},{"date":"1972-08-06","mm":2.6},{"date":"1972-08-07","mm":2.6},{"date":"1972-08-08","mm":2.6},{"date":"1972-08-15","mm":24.2},{"date":"1972-08-16","mm":24.2},{"date":"1972-08-17","mm":24.2},{"date":"1972-08-18","mm":24.2},{"date":"1972-08-19","mm":39.9},{"date":"1972-08-20","mm":39.9},{"date":"1972-08-21","mm":39.9},{"date":"1972-08-22","mm":11},{"date":"1972-08-23","mm":11},{"date":"1972-08-24","mm":11},{"date":"1972-08-25","mm":3.4},{"date":"1972-08-26","mm":3.4},{"date":"1972-08-27","mm":3.4},{"date":"1972-08-28","mm":3.4},{"date":"1972-08-29","mm":3.4},{"date":"1972-08-30","mm":3.4},{"date":"1972-08-31","mm":3.4},
{"date":"1972-09-06","mm":8.6},{"date":"1972-09-07","mm":8.6},{"date":"1972-09-08","mm":8.6},{"date":"1972-09-10","mm":69},{"date":"1972-09-11","mm":69},{"date":"1972-09-12","mm":69},{"date":"1972-09-13","mm":8.2},{"date":"1972-09-14","mm":8.2},{"date":"1972-09-15","mm":8.2},{"date":"1972-09-16","mm":8.2},{"date":"1972-09-17","mm":7.3},{"date":"1972-09-18","mm":7.3},{"date":"1972-09-19","mm":7.3},{"date":"1972-09-20","mm":7.3},{"date":"1972-09-21","mm":5.8},{"date":"1972-09-22","mm":5.8},{"date":"1972-09-23","mm":5.8},{"date":"1972-09-24","mm":5.8},{"date":"1972-09-25","mm":4.2},{"date":"1972-09-26","mm":4.2},{"date":"1972-09-27","mm":4.2},{"date":"1972-09-28","mm":4.2},
{"date":"1972-10-01","mm":2.1},{"date":"1972-10-02","mm":2.1},{"date":"1972-10-03","mm":2.1},{"date":"1972-10-04","mm":2.1},{"date":"1972-10-06","mm":3},{"date":"1972-10-07","mm":3},{"date":"1972-10-08","mm":3},{"date":"1972-10-09","mm":3},{"date":"1972-10-11","mm":2.1},{"date":"1972-10-12","mm":2.1},{"date":"1972-10-13","mm":2.1},{"date":"1972-10-14","mm":2.1},{"date":"1972-10-19","mm":4.6},{"date":"1972-10-20","mm":4.6},{"date":"1972-10-21","mm":4.6},{"date":"1972-10-22","mm":4.6}
],
"lab_t":[{"date":"1971-08-23","value":10.53,"text":"236","bold":false},{"date":"1971-07-13","value":9.98,"text":"237","bold":true},{"date":"1971-07-24","value":7.64,"text":"238","bold":false},{"date":"1971-06-17","value":7.49,"text":"226","bold":false}],
"lead_t":[{"date":"1971-08-23","date2":"1971-08-23","value":10.24,"value2":9.92},{"date":"1971-07-04","date2":"1971-07-04","value":9.66,"value2":9.15},{"date":"1971-06-29","date2":"1971-07-04","value":9.15,"value2":9.15},{"date":"1971-07-28","date2":"1971-07-28","value":8.39,"value2":8.1},{"date":"1971-06-17","date2":"1971-06-17","value":8.26,"value2":8.0}],
"lab_q":[{"date":"1971-04-17","value":53.7,"text":"236"},{"date":"1971-04-10","value":35.9,"text":"238"},{"date":"1971-04-09","value":24.7,"text":"237"},{"date":"1971-02-19","value":8.0,"text":"226"}],
"lead_q":[{"date":"1971-04-16","date2":"1971-04-16","value":52.4,"value2":50.9},{"date":"1971-04-03","date2":"1971-04-03","value":34.5,"value2":32.6},{"date":"1971-04-02","date2":"1971-04-02","value":22.6,"value2":21.5}]
},
"hconcat":[
{
 "width":272,"height":1666,
 "resolve":{"axis":{"x":"independent","y":"independent"}},
 "layer":[
  {"data":{"name":"temp"},
   "mark":{"type":"line","color":"#111","strokeWidth":2,"clip":true},
   "encoding":{
    "x":{"field":"value","type":"quantitative","scale":{"domain":[4,12.09],"reverse":true,"nice":false,"zero":false},
         "axis":{"orient":"bottom","values":[5,6,7,8,9,10,11],"labelAngle":270,"tickSize":9,"labelPadding":8,"grid":true,"title":"Teplota vody  (°C)","titleAngle":180,"titleBaseline":"bottom","titleFontSize":22,"titleFontWeight":"bold","titlePadding":27}},
    "y":{"field":"date","type":"temporal","scale":{"type":"utc","domain":[{"year":1970,"month":11,"date":1,"utc":true},{"year":1972,"month":11,"date":1,"utc":true}],"nice":false},
         "axis":{"orient":"left","values":[{"year":1970,"month":11,"date":1,"utc":true},{"year":1970,"month":12,"date":1,"utc":true},{"year":1971,"month":1,"date":1,"utc":true},{"year":1971,"month":2,"date":1,"utc":true},{"year":1971,"month":3,"date":1,"utc":true},{"year":1971,"month":4,"date":1,"utc":true},{"year":1971,"month":5,"date":1,"utc":true},{"year":1971,"month":6,"date":1,"utc":true},{"year":1971,"month":7,"date":1,"utc":true},{"year":1971,"month":8,"date":1,"utc":true},{"year":1971,"month":9,"date":1,"utc":true},{"year":1971,"month":10,"date":1,"utc":true},{"year":1971,"month":11,"date":1,"utc":true},{"year":1971,"month":12,"date":1,"utc":true},{"year":1972,"month":1,"date":1,"utc":true},{"year":1972,"month":2,"date":1,"utc":true},{"year":1972,"month":3,"date":1,"utc":true},{"year":1972,"month":4,"date":1,"utc":true},{"year":1972,"month":5,"date":1,"utc":true},{"year":1972,"month":6,"date":1,"utc":true},{"year":1972,"month":7,"date":1,"utc":true},{"year":1972,"month":8,"date":1,"utc":true},{"year":1972,"month":9,"date":1,"utc":true},{"year":1972,"month":10,"date":1,"utc":true},{"year":1972,"month":11,"date":1,"utc":true}],"grid":true,"gridColor":"#222","ticks":false,"labels":false,"title":null}},
    "strokeDash":{"field":"site","type":"nominal","scale":{"domain":["236","237","238","226"],"range":[[1,0],[9,5],[2.5,3.5],[11,4,3,4]]},"legend":null},
    "order":{"field":"date","type":"temporal"}
   }},
  {"data":{"name":"temp"},
   "mark":{"type":"point","opacity":0},
   "encoding":{
    "x":{"field":"value","type":"quantitative","scale":{"domain":[4,12.09],"reverse":true,"nice":false,"zero":false},
         "axis":{"orient":"top","values":[5,6,7,8,9,10,11],"labelAngle":270,"tickSize":7,"labelPadding":12,"grid":false,"title":null}},
    "y":{"field":"date","type":"temporal","scale":{"type":"utc","domain":[{"year":1970,"month":11,"date":1,"utc":true},{"year":1972,"month":11,"date":1,"utc":true}],"nice":false},"axis":null}
   }},
  {"data":{"name":"lab_t"},
   "transform":[{"filter":"!datum.bold"}],
   "mark":{"type":"text","angle":270,"fontSize":17,"font":"Arial","color":"#111","align":"center","baseline":"middle"},
   "encoding":{
    "x":{"field":"value","type":"quantitative","scale":{"domain":[4,12.09],"reverse":true,"nice":false,"zero":false},"axis":null},
    "y":{"field":"date","type":"temporal","scale":{"type":"utc","domain":[{"year":1970,"month":11,"date":1,"utc":true},{"year":1972,"month":11,"date":1,"utc":true}],"nice":false},"axis":null},
    "text":{"field":"text"}
   }},
  {"data":{"name":"lab_t"},
   "transform":[{"filter":"datum.bold"}],
   "mark":{"type":"text","angle":270,"fontSize":17,"fontWeight":"bold","font":"Arial","color":"#111","align":"center","baseline":"middle"},
   "encoding":{
    "x":{"field":"value","type":"quantitative","scale":{"domain":[4,12.09],"reverse":true,"nice":false,"zero":false},"axis":null},
    "y":{"field":"date","type":"temporal","scale":{"type":"utc","domain":[{"year":1970,"month":11,"date":1,"utc":true},{"year":1972,"month":11,"date":1,"utc":true}],"nice":false},"axis":null},
    "text":{"field":"text"}
   }},
  {"data":{"name":"lead_t"},
   "mark":{"type":"rule","color":"#111","strokeWidth":1.5},
   "encoding":{
    "x":{"field":"value","type":"quantitative","scale":{"domain":[4,12.09],"reverse":true,"nice":false,"zero":false},"axis":null},
    "x2":{"field":"value2"},
    "y":{"field":"date","type":"temporal","scale":{"type":"utc","domain":[{"year":1970,"month":11,"date":1,"utc":true},{"year":1972,"month":11,"date":1,"utc":true}],"nice":false},"axis":null},
    "y2":{"field":"date2"}
   }}
 ]
},
{
 "width":403,"height":1666,
 "resolve":{"axis":{"x":"independent","y":"independent"}},
 "layer":[
  {"data":{"name":"flow"},
   "mark":{"type":"line","color":"#111","strokeWidth":2.6,"clip":true},
   "encoding":{
    "x":{"field":"value","type":"quantitative","scale":{"domain":[0,60],"reverse":true,"nice":false,"zero":false},
         "axis":{"orient":"bottom","values":[10,20,30,40,50],"labelAngle":270,"tickSize":9,"labelPadding":8,"grid":true,"title":"Vydatnosť  (l/s)","titleAngle":180,"titleBaseline":"bottom","titleFontSize":22,"titleFontWeight":"bold","titlePadding":27}},
    "y":{"field":"date","type":"temporal","scale":{"type":"utc","domain":[{"year":1970,"month":11,"date":1,"utc":true},{"year":1972,"month":11,"date":1,"utc":true}],"nice":false},
         "axis":{"orient":"left","values":[{"year":1970,"month":11,"date":1,"utc":true},{"year":1970,"month":12,"date":1,"utc":true},{"year":1971,"month":1,"date":1,"utc":true},{"year":1971,"month":2,"date":1,"utc":true},{"year":1971,"month":3,"date":1,"utc":true},{"year":1971,"month":4,"date":1,"utc":true},{"year":1971,"month":5,"date":1,"utc":true},{"year":1971,"month":6,"date":1,"utc":true},{"year":1971,"month":7,"date":1,"utc":true},{"year":1971,"month":8,"date":1,"utc":true},{"year":1971,"month":9,"date":1,"utc":true},{"year":1971,"month":10,"date":1,"utc":true},{"year":1971,"month":11,"date":1,"utc":true},{"year":1971,"month":12,"date":1,"utc":true},{"year":1972,"month":1,"date":1,"utc":true},{"year":1972,"month":2,"date":1,"utc":true},{"year":1972,"month":3,"date":1,"utc":true},{"year":1972,"month":4,"date":1,"utc":true},{"year":1972,"month":5,"date":1,"utc":true},{"year":1972,"month":6,"date":1,"utc":true},{"year":1972,"month":7,"date":1,"utc":true},{"year":1972,"month":8,"date":1,"utc":true},{"year":1972,"month":9,"date":1,"utc":true},{"year":1972,"month":10,"date":1,"utc":true},{"year":1972,"month":11,"date":1,"utc":true}],"grid":true,"gridColor":"#222","ticks":false,"labels":false,"title":null}},
    "strokeDash":{"field":"site","type":"nominal","scale":{"domain":["236","237","238","226"],"range":[[1,0],[10,6],[2.6,3.6],[12,5,3,5]]},"legend":null},
    "order":{"field":"date","type":"temporal"}
   }},
  {"data":{"name":"flow"},
   "mark":{"type":"point","opacity":0},
   "encoding":{
    "x":{"field":"value","type":"quantitative","scale":{"domain":[0,60],"reverse":true,"nice":false,"zero":false},
         "axis":{"orient":"top","values":[10,20,30,40,50],"labelAngle":270,"tickSize":7,"labelPadding":12,"grid":false,"title":null}},
    "y":{"field":"date","type":"temporal","scale":{"type":"utc","domain":[{"year":1970,"month":11,"date":1,"utc":true},{"year":1972,"month":11,"date":1,"utc":true}],"nice":false},"axis":null}
   }},
  {"data":{"name":"lab_q"},
   "mark":{"type":"text","angle":270,"fontSize":17,"font":"Arial","color":"#111","align":"center","baseline":"middle"},
   "encoding":{
    "x":{"field":"value","type":"quantitative","scale":{"domain":[0,60],"reverse":true,"nice":false,"zero":false},"axis":null},
    "y":{"field":"date","type":"temporal","scale":{"type":"utc","domain":[{"year":1970,"month":11,"date":1,"utc":true},{"year":1972,"month":11,"date":1,"utc":true}],"nice":false},"axis":null},
    "text":{"field":"text"}
   }},
  {"data":{"name":"lead_q"},
   "mark":{"type":"rule","color":"#111","strokeWidth":1.5},
   "encoding":{
    "x":{"field":"value","type":"quantitative","scale":{"domain":[0,60],"reverse":true,"nice":false,"zero":false},"axis":null},
    "x2":{"field":"value2"},
    "y":{"field":"date","type":"temporal","scale":{"type":"utc","domain":[{"year":1970,"month":11,"date":1,"utc":true},{"year":1972,"month":11,"date":1,"utc":true}],"nice":false},"axis":null},
    "y2":{"field":"date2"}
   }}
 ]
},
{
 "width":237,"height":1666,
 "resolve":{"axis":{"x":"independent","y":"independent"}},
 "layer":[
  {"data":{"name":"rain"},
   "mark":{"type":"bar","color":"#1a1a1a","binSpacing":0,"stroke":"#1a1a1a","strokeWidth":1.2},
   "encoding":{
    "x":{"field":"mm","type":"quantitative","scale":{"domain":[0,70],"reverse":true,"nice":false,"zero":false},
         "axis":{"orient":"bottom","values":[10,20,30,40,50,60],"labelAngle":270,"tickSize":9,"labelPadding":8,"grid":true,"title":"Úhrn zrážok  (mm)","titleAngle":180,"titleBaseline":"bottom","titleFontSize":22,"titleFontWeight":"bold","titlePadding":27}},
    "y":{"field":"date","type":"temporal","timeUnit":"utcyearmonthdate","scale":{"type":"utc","domain":[{"year":1970,"month":11,"date":1,"utc":true},{"year":1972,"month":11,"date":1,"utc":true}],"nice":false},
         "axis":{"orient":"right","values":[{"year":1970,"month":11,"date":1,"utc":true},{"year":1970,"month":12,"date":1,"utc":true},{"year":1971,"month":1,"date":1,"utc":true},{"year":1971,"month":2,"date":1,"utc":true},{"year":1971,"month":3,"date":1,"utc":true},{"year":1971,"month":4,"date":1,"utc":true},{"year":1971,"month":5,"date":1,"utc":true},{"year":1971,"month":6,"date":1,"utc":true},{"year":1971,"month":7,"date":1,"utc":true},{"year":1971,"month":8,"date":1,"utc":true},{"year":1971,"month":9,"date":1,"utc":true},{"year":1971,"month":10,"date":1,"utc":true},{"year":1971,"month":11,"date":1,"utc":true},{"year":1971,"month":12,"date":1,"utc":true},{"year":1972,"month":1,"date":1,"utc":true},{"year":1972,"month":2,"date":1,"utc":true},{"year":1972,"month":3,"date":1,"utc":true},{"year":1972,"month":4,"date":1,"utc":true},{"year":1972,"month":5,"date":1,"utc":true},{"year":1972,"month":6,"date":1,"utc":true},{"year":1972,"month":7,"date":1,"utc":true},{"year":1972,"month":8,"date":1,"utc":true},{"year":1972,"month":9,"date":1,"utc":true},{"year":1972,"month":10,"date":1,"utc":true},{"year":1972,"month":11,"date":1,"utc":true}],"grid":true,"gridColor":"#222","ticks":true,"tickSize":9,"labels":false,"title":null}}
   }},
  {"data":{"name":"rain"},
   "mark":{"type":"point","opacity":0},
   "encoding":{
    "x":{"field":"mm","type":"quantitative","scale":{"domain":[0,70],"reverse":true,"nice":false,"zero":false},
         "axis":{"orient":"top","values":[10,20,30,40,50,60],"labelAngle":270,"tickSize":7,"labelPadding":12,"grid":false,"title":null}},
    "y":{"field":"date","type":"temporal","scale":{"type":"utc","domain":[{"year":1970,"month":11,"date":1,"utc":true},{"year":1972,"month":11,"date":1,"utc":true}],"nice":false},
         "axis":{"orient":"right","values":[{"year":1970,"month":11,"date":16,"utc":true},{"year":1970,"month":12,"date":16,"utc":true},{"year":1971,"month":1,"date":16,"utc":true},{"year":1971,"month":2,"date":15,"utc":true},{"year":1971,"month":3,"date":16,"utc":true},{"year":1971,"month":4,"date":16,"utc":true},{"year":1971,"month":5,"date":16,"utc":true},{"year":1971,"month":6,"date":16,"utc":true},{"year":1971,"month":7,"date":16,"utc":true},{"year":1971,"month":8,"date":16,"utc":true},{"year":1971,"month":9,"date":16,"utc":true},{"year":1971,"month":10,"date":16,"utc":true},{"year":1971,"month":11,"date":16,"utc":true},{"year":1971,"month":12,"date":16,"utc":true},{"year":1972,"month":1,"date":16,"utc":true},{"year":1972,"month":2,"date":15,"utc":true},{"year":1972,"month":3,"date":16,"utc":true},{"year":1972,"month":4,"date":16,"utc":true},{"year":1972,"month":5,"date":16,"utc":true},{"year":1972,"month":6,"date":16,"utc":true},{"year":1972,"month":7,"date":16,"utc":true},{"year":1972,"month":8,"date":16,"utc":true},{"year":1972,"month":9,"date":16,"utc":true},{"year":1972,"month":10,"date":16,"utc":true}],
         "ticks":false,"tickSize":0,"labelExpr":"['I','II','III','IV','V','VI','VII','VIII','IX','X','XI','XII'][utcmonth(datum.value)]","labelAngle":270,"labelAlign":"center","labelBaseline":"top","labelFontSize":21,"labelFontWeight":"bold","labelPadding":11,"grid":false,"title":null}}
   }},
  {"data":{"name":"rain"},
   "mark":{"type":"point","opacity":0},
   "encoding":{
    "x":{"field":"mm","type":"quantitative","scale":{"domain":[0,70],"reverse":true,"nice":false,"zero":false},"axis":null},
    "y":{"field":"date","type":"temporal","scale":{"type":"utc","domain":[{"year":1970,"month":11,"date":1,"utc":true},{"year":1972,"month":11,"date":1,"utc":true}],"nice":false},
         "axis":{"orient":"right","values":[{"year":1971,"month":1,"date":1,"utc":true},{"year":1972,"month":1,"date":1,"utc":true}],"labels":false,"ticks":true,"tickSize":65,"tickWidth":1.5,"grid":false,"title":null}}
   }},
  {"data":{"name":"rain"},
   "mark":{"type":"point","opacity":0},
   "encoding":{
    "x":{"field":"mm","type":"quantitative","scale":{"domain":[0,70],"reverse":true,"nice":false,"zero":false},"axis":null},
    "y":{"field":"date","type":"temporal","scale":{"type":"utc","domain":[{"year":1970,"month":11,"date":1,"utc":true},{"year":1972,"month":11,"date":1,"utc":true}],"nice":false},
         "axis":{"orient":"right","values":[{"year":1970,"month":12,"date":2,"utc":true},{"year":1971,"month":6,"date":24,"utc":true},{"year":1972,"month":5,"date":20,"utc":true}],
         "ticks":false,"tickSize":0,"labelExpr":"utcFormat(datum.value,'%Y')","labelAngle":270,"labelAlign":"center","labelBaseline":"top","labelFontSize":28,"labelFontWeight":"bold","labelPadding":51,"grid":false,"title":null}}
   }}
 ]
}
]
}
